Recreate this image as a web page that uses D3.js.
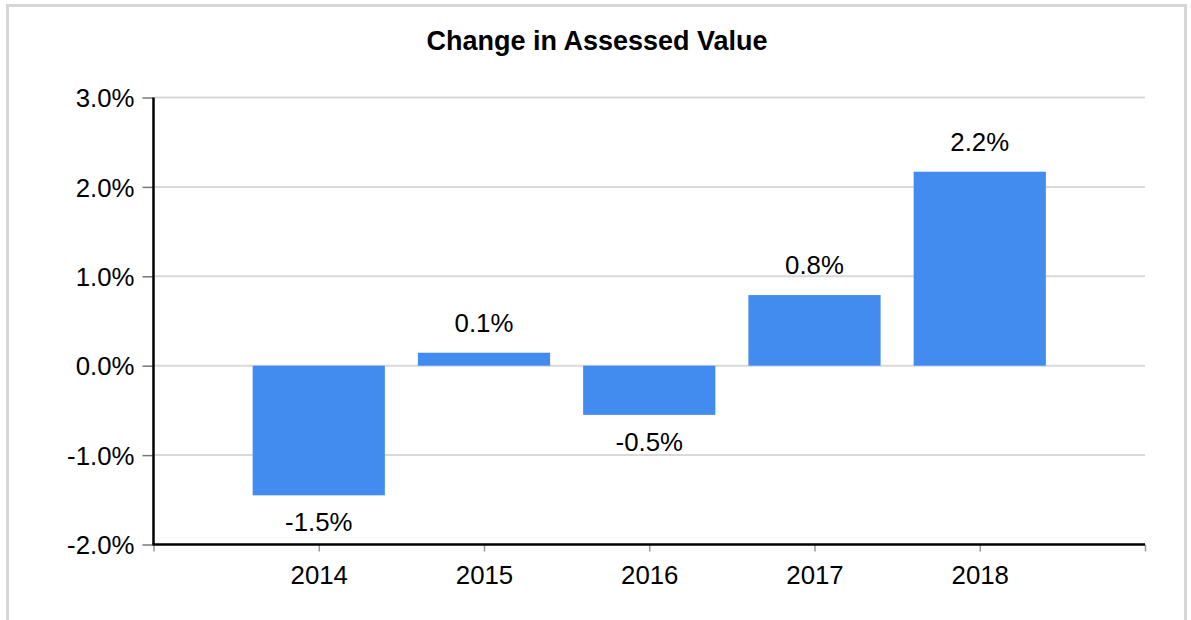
<!DOCTYPE html>
<html>
<head>
<meta charset="utf-8">
<script src="https://cdn.jsdelivr.net/npm/d3@7"></script>
<style>
  html, body { margin: 0; padding: 0; background: #fff; }
  svg { display: block; }
  text { font-family: "Liberation Sans", Arial, sans-serif; fill: #000; }
</style>
</head>
<body>
<svg id="chart" width="1191" height="620"></svg>
<script>
const title = "Change in Assessed Value";
const categories = ["2014", "2015", "2016", "2017", "2018"];
const values = [-1.45, 0.145, -0.55, 0.79, 2.17];
const valueLabels = ["-1.5%", "0.1%", "-0.5%", "0.8%", "2.2%"];
const yTicks = [-2, -1, 0, 1, 2, 3];
const yTickLabels = ["-2.0%", "-1.0%", "0.0%", "1.0%", "2.0%", "3.0%"];

(function () {
const svg = d3.select("#chart");
const pL = 153.5, pR = 1145, pT = 97.5, pB = 544.5;
const fs = 25.8;

// outer frame
svg.append("rect")
  .attr("x", 7.5).attr("y", 5.5)
  .attr("width", 1178).attr("height", 700)
  .attr("fill", "none").attr("stroke", "#d6d6d6").attr("stroke-width", 3);

const y = d3.scaleLinear().domain([-2, 3]).range([pB, pT]);
const x = d3.scaleLinear().domain([0, categories.length + 1]).range([pL, pR]);
const step = x(1) - x(0);
const barW = step * 0.8;

// gridlines
svg.append("g").selectAll("line")
  .data(yTicks.filter(t => t !== -2))
  .join("line")
  .attr("x1", pL).attr("x2", pR)
  .attr("y1", d => y(d)).attr("y2", d => y(d))
  .attr("stroke", "#d9d9d9").attr("stroke-width", 2);

// bars
svg.append("g").selectAll("rect")
  .data(values)
  .join("rect")
  .attr("x", (d, i) => x(i + 1) - barW / 2)
  .attr("width", barW)
  .attr("y", d => Math.min(y(d), y(0)))
  .attr("height", d => Math.abs(y(d) - y(0)))
  .attr("fill", "#428bef");

// value labels
svg.append("g").selectAll("text")
  .data(values)
  .join("text")
  .attr("x", (d, i) => x(i + 1))
  .attr("y", d => d >= 0 ? y(d) - 21 : y(d) + 36)
  .attr("text-anchor", "middle")
  .attr("font-size", fs)
  .text((d, i) => valueLabels[i]);

// y axis
const yAxis = d3.axisLeft(y)
  .tickValues(yTicks)
  .tickFormat((d, i) => yTickLabels[i])
  .tickSize(11)
  .tickPadding(8);
const gy = svg.append("g").attr("transform", `translate(${pL},0)`).call(yAxis);
gy.select(".domain").remove();
gy.selectAll(".tick line").attr("stroke", "#777").attr("stroke-width", 1.5);
gy.selectAll(".tick text").attr("font-size", fs).attr("font-family", "Liberation Sans, Arial, sans-serif").attr("fill", "#000").attr("dy", "0.36em");

// x axis
const xAxis = d3.axisBottom(x)
  .tickValues(d3.range(0, categories.length + 2))
  .tickFormat(d => (d >= 1 && d <= categories.length) ? categories[d - 1] : "")
  .tickSize(7)
  .tickPadding(14);
const gx = svg.append("g").attr("transform", `translate(0,${pB})`).call(xAxis);
gx.select(".domain").remove();
gx.selectAll(".tick line").attr("stroke", "#999").attr("stroke-width", 1.5);
gx.selectAll(".tick text").attr("font-size", fs).attr("font-family", "Liberation Sans, Arial, sans-serif").attr("fill", "#000");

// axis lines
svg.append("line")
  .attr("x1", pL).attr("x2", pL).attr("y1", pT).attr("y2", pB)
  .attr("stroke", "#000").attr("stroke-width", 2.5);
svg.append("line")
  .attr("x1", pL - 1).attr("x2", pR).attr("y1", pB).attr("y2", pB)
  .attr("stroke", "#000").attr("stroke-width", 2.5);

// title
svg.append("text")
  .attr("x", 597).attr("y", 50)
  .attr("text-anchor", "middle")
  .attr("font-size", 27)
  .attr("font-weight", "bold")
  .text(title);
})();
</script>
</body>
</html>
